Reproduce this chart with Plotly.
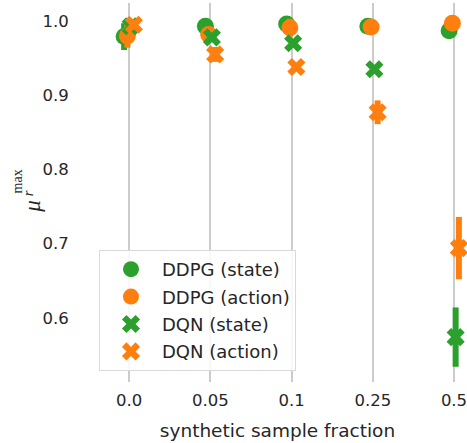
import plotly.graph_objects as go

# Synthetic sample fractions (categorical x axis)
fractions = ["0.0", "0.05", "0.1", "0.25", "0.5"]

# Mean of mu_r^max per configuration, with symmetric error half-widths
ddpg_state = [0.979, 0.993, 0.996, 0.993, 0.987]
ddpg_state_err = [0.018, 0.005, 0.004, 0.003, 0.004]
ddpg_action = [0.980, 0.982, 0.991, 0.992, 0.997]
ddpg_action_err = [0.016, 0.010, 0.012, 0.003, 0.003]
dqn_state = [0.993, 0.978, 0.970, 0.935, 0.574]
dqn_state_err = [0.005, 0.006, 0.006, 0.004, 0.040]
dqn_action = [0.995, 0.955, 0.938, 0.877, 0.694]
dqn_action_err = [0.006, 0.010, 0.006, 0.016, 0.042]

GREEN = "#2ca02c"
ORANGE = "#ff7f0e"
TEXT = "#262626"
FONT = "DejaVu Sans"
CLEAR = "rgba(0,0,0,0)"

series = [
    ("DDPG (state)", ddpg_state, ddpg_state_err, GREEN, "circle", 17),
    ("DDPG (action)", ddpg_action, ddpg_action_err, ORANGE, "circle", 17),
    ("DQN (state)", dqn_state, dqn_state_err, GREEN, "x", 16),
    ("DQN (action)", dqn_action, dqn_action_err, ORANGE, "x", 16),
]
# horizontal dodge of the four series around each category
dodge = [-0.06, -0.02, 0.02, 0.06]

fig = go.Figure()
for (name, vals, errs, color, symbol, size), off in zip(series, dodge):
    fig.add_trace(go.Scatter(
        x=[i + off for i in range(len(fractions))],
        y=vals,
        name=name,
        legendgroup=name,
        mode="markers",
        marker=dict(color=color, symbol=symbol, size=size, line=dict(width=0)),
        error_y=dict(type="data", array=errs, visible=True, color=color,
                     thickness=6, width=0),
    ))

fig.update_layout(
    width=467, height=443,
    margin=dict(l=88, r=0, t=3, b=61, autoexpand=False),
    paper_bgcolor="white", plot_bgcolor="white",
    font=dict(family=FONT, size=16, color=TEXT),
    showlegend=True,
    legend=dict(
        x=0.029, y=0.029, xanchor="left", yanchor="bottom",
        bgcolor="rgba(255,255,255,0.85)", bordercolor="#d9d9d9", borderwidth=1,
        font=dict(family=FONT, size=18, color=TEXT),
        tracegroupgap=1, itemwidth=52,
    ),
    xaxis=dict(
        range=[-0.505, 4.16], automargin=False,
        tickvals=list(range(len(fractions))), ticktext=fractions,
        showgrid=True, gridcolor="#cccccc", gridwidth=1.5,
        zeroline=False, showline=False,
        ticks="outside", ticklen=3, tickcolor=CLEAR,
        tickfont=dict(size=16.5, color=TEXT),
        ticklabeloverflow="allow",
        title=dict(text="synthetic sample fraction", font=dict(size=18.5, color=TEXT)),
    ),
    yaxis=dict(
        range=[0.5135, 1.0243], automargin=False,
        tickvals=[0.6, 0.7, 0.8, 0.9, 1.0], ticktext=["0.6", "0.7", "0.8", "0.9", "1.0"],
        showgrid=False, zeroline=False, showline=False,
        ticks="outside", ticklen=15, tickcolor=CLEAR,
        tickfont=dict(size=16.5, color=TEXT),
    ),
)

# y-axis label: mu with subscript r and superscript max
serif = "Liberation Serif"
fig.add_annotation(text="<i>μ</i>", xref="paper", yref="paper", x=0, y=0.464,
                   xshift=-70, showarrow=False, textangle=-90,
                   font=dict(family=serif, size=23, color=TEXT))
fig.add_annotation(text="<i>r</i>", xref="paper", yref="paper", x=0, y=0.498,
                   xshift=-70, showarrow=False, textangle=-90,
                   font=dict(family=serif, size=15, color=TEXT))
fig.add_annotation(text="max", xref="paper", yref="paper", x=0, y=0.528,
                   xshift=-80, showarrow=False, textangle=-90,
                   font=dict(family=serif, size=14, color=TEXT))

fig.write_html("out.html")
